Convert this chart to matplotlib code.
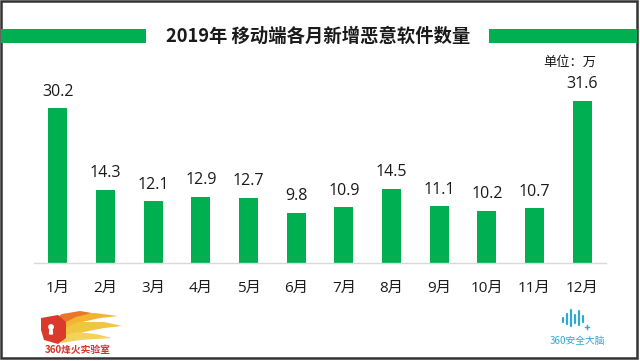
import matplotlib
matplotlib.use("Agg")
import matplotlib.pyplot as plt
from matplotlib.patches import Rectangle, Polygon, Circle

months = ["1月", "2月", "3月", "4月", "5月", "6月", "7月", "8月", "9月", "10月", "11月", "12月"]
values = [30.2, 14.3, 12.1, 12.9, 12.7, 9.8, 10.9, 14.5, 11.1, 10.2, 10.7, 31.6]
title = "2019年 移动端各月新增恶意软件数量"
unit = "单位：万"

W, H = 640, 361
fig = plt.figure(figsize=(W / 100, H / 100), dpi=100)
fig.patch.set_facecolor("white")

FONT = ["Open Sans", "Noto Sans CJK SC", "DejaVu Sans"]
CJK = ["Noto Sans CJK SC", "DejaVu Sans"]
GREEN = "#00b050"
TXT = "#1a1a1a"

# main axes (pixel geometry)
left, right_px = 34, 606
base_y, ylim_top = 263, 35
px_per_unit = (263 - 108) / 30.2
ax_h = ylim_top * px_per_unit
ax = fig.add_axes([left / W, (H - base_y) / H, (right_px - left) / W, ax_h / H])
x = list(range(len(months)))
ax.bar(x, values, width=0.4, color=GREEN, zorder=2)
ax.set_xlim(-0.5, 11.5)
ax.set_ylim(0, ylim_top)
for s in ["top", "right", "left"]:
    ax.spines[s].set_visible(False)
ax.spines["bottom"].set_color("#d9d9d9")
ax.spines["bottom"].set_linewidth(1.0)
ax.set_yticks([])
ax.set_xticks(x)
ax.set_xticklabels(months, family=FONT, fontsize=11, color=TXT)
ax.tick_params(axis="x", length=0, pad=13)
ax.patch.set_alpha(0)
for xi, v in zip(x, values):
    ax.annotate(f"{v:.1f}", (xi, v), xytext=(0, 6), textcoords="offset points",
                ha="center", va="bottom", family=FONT, fontsize=11.5, color=TXT)

# overlay for decorations in pixel coords
ov = fig.add_axes([0, 0, 1, 1], zorder=-1)
ov.set_xlim(0, W)
ov.set_ylim(H, 0)
ov.axis("off")

# border
ov.add_patch(Rectangle((1, 1), 636, 357, fill=False, edgecolor="#333333", linewidth=1.8))

# title bars
ov.add_patch(Rectangle((1, 29), 145, 14, color=GREEN, linewidth=0))
ov.add_patch(Rectangle((489, 29), 148, 14, color=GREEN, linewidth=0))
ov.text(318, 36, title, ha="center", va="center", family=CJK, fontsize=13.2,
        fontweight="bold", color=TXT)
ov.text(596, 62, unit, ha="right", va="center", family=CJK, fontsize=9.5, color=TXT)

# left logo (flame + shield)
flames = [
    ([(52, 326), (70, 315), (95, 313), (118, 316), (100, 318), (82, 322), (66, 330)], "#f2b533"),
    ([(56, 332), (78, 322), (104, 322), (122, 326), (104, 328), (84, 332), (66, 338)], "#f0c640"),
    ([(56, 338), (76, 332), (96, 334), (112, 338), (96, 339), (80, 340), (62, 343)], "#f3d25a"),
    ([(50, 322), (62, 314), (80, 311), (92, 313), (76, 317), (62, 324)], "#e8772b"),
]
for pts, c in flames:
    ov.add_patch(Polygon(pts, closed=True, color=c, linewidth=0))
shield = [(41, 318), (58, 315), (66, 322), (66, 338), (58, 344), (44, 340), (41, 330)]
ov.add_patch(Polygon(shield, closed=True, color="#d93a2b", linewidth=0))
ov.add_patch(Circle((51, 327), 2.2, color="white"))
ov.add_patch(Polygon([(50, 328), (52, 328), (52.5, 334), (49.5, 334)], color="white"))
ov.text(78, 350, "360烽火实验室", ha="center", va="center", family=CJK, fontsize=7,
        fontweight="bold", color="#d0352a")

# right logo
CY = "#2fa8d8"
bars_icon = [(563, 318, 322), (567, 314, 324), (571, 310, 326), (575, 315, 323), (579, 311, 325), (583, 316, 322)]
for xx, y0, y1 in bars_icon:
    ov.plot([xx, xx], [y0, y1], color=CY, linewidth=1.6, solid_capstyle="round")
ov.plot([585, 589], [327, 327], color=CY, linewidth=1)
ov.plot([587, 587], [325, 329], color=CY, linewidth=1)
ov.text(577, 341, "360安全大脑", ha="center", va="center", family=CJK, fontsize=7,
        color=CY)

fig.savefig("out.png", dpi=100)
